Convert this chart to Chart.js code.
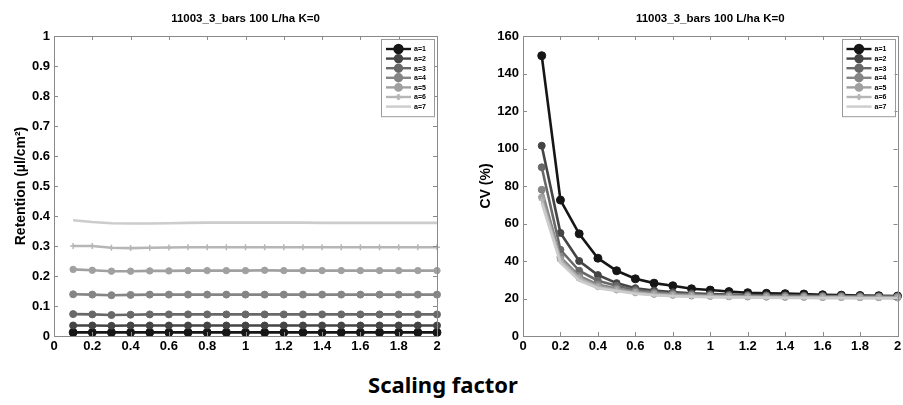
<!DOCTYPE html>
<html>
<head>
<meta charset="utf-8">
<script src="https://cdn.jsdelivr.net/npm/chart.js@4.4.1/dist/chart.umd.min.js"></script>
<style>
  html, body { margin: 0; padding: 0; background: #fff; }
  body { width: 903px; height: 405px; position: relative; overflow: hidden; }
  #left { position: absolute; left: 0; top: 0; }
  #right { position: absolute; left: 450px; top: 0; }
  #xlabel {
    position: absolute; left: 0; width: 886px; top: 369px; text-align: center;
    font: bold 22px "Noto Sans", "Open Sans", sans-serif; color: #000;
  }
</style>
</head>
<body>
<canvas id="left" width="450" height="360"></canvas>
<canvas id="right" width="453" height="360"></canvas>
<div id="xlabel">Scaling factor</div>
<script>
// Scaling factor values shared by both panels
const scaling = [0.1, 0.2, 0.3, 0.4, 0.5, 0.6, 0.7, 0.8, 0.9, 1.0,
                 1.1, 1.2, 1.3, 1.4, 1.5, 1.6, 1.7, 1.8, 1.9, 2.0];

const seriesNames = ['a=1', 'a=2', 'a=3', 'a=4', 'a=5', 'a=6', 'a=7'];
const seriesColors = ['#161616', '#444444', '#686868', '#858585', '#a0a0a0', '#b6b6b6', '#cccccc'];
const markerStyles = ['circle', 'circle', 'circle', 'circle', 'circle', 'cross', 'circle'];
const markerRadii = [4.0, 3.5, 3.5, 3.5, 3.2, 3.0, 0];

const panelTitle = '11003_3_bars 100 L/ha K=0';

// Retention (µl/cm²)
const retA1 = [0.012, 0.012, 0.012, 0.012, 0.012, 0.012, 0.012, 0.012, 0.012, 0.012, 0.012, 0.012, 0.012, 0.012, 0.012, 0.012, 0.012, 0.012, 0.012, 0.012];
const retA2 = [0.035, 0.035, 0.034, 0.035, 0.035, 0.035, 0.035, 0.035, 0.035, 0.035, 0.035, 0.035, 0.035, 0.035, 0.035, 0.035, 0.035, 0.035, 0.035, 0.035];
const retA3 = [0.073, 0.072, 0.070, 0.071, 0.072, 0.072, 0.072, 0.072, 0.072, 0.072, 0.072, 0.072, 0.072, 0.072, 0.072, 0.072, 0.072, 0.072, 0.072, 0.072];
const retA4 = [0.139, 0.138, 0.136, 0.137, 0.138, 0.138, 0.138, 0.138, 0.138, 0.138, 0.138, 0.138, 0.138, 0.138, 0.138, 0.138, 0.138, 0.138, 0.138, 0.138];
const retA5 = [0.222, 0.219, 0.216, 0.216, 0.217, 0.217, 0.218, 0.218, 0.218, 0.218, 0.219, 0.218, 0.218, 0.218, 0.218, 0.218, 0.218, 0.218, 0.218, 0.218];
const retA6 = [0.300, 0.300, 0.294, 0.293, 0.294, 0.295, 0.296, 0.296, 0.296, 0.296, 0.296, 0.296, 0.296, 0.296, 0.296, 0.296, 0.296, 0.296, 0.296, 0.296];
const retA7 = [0.386, 0.380, 0.376, 0.375, 0.375, 0.376, 0.377, 0.378, 0.378, 0.378, 0.378, 0.378, 0.378, 0.377, 0.377, 0.377, 0.377, 0.377, 0.377, 0.377];

// CV (%)
const cvA1 = [149.5, 72.5, 54.5, 41.5, 34.8, 30.5, 28.2, 26.8, 25.2, 24.5, 23.7, 23.1, 22.8, 22.6, 22.4, 22.0, 21.8, 21.6, 21.5, 21.3];
const cvA2 = [101.5, 55.0, 40.0, 32.5, 28.2, 25.5, 24.3, 23.4, 22.8, 22.4, 22.1, 21.9, 21.8, 21.7, 21.6, 21.5, 21.4, 21.3, 21.2, 21.1];
const cvA3 = [90.0, 46.0, 34.8, 29.5, 26.8, 24.5, 23.4, 22.7, 22.2, 21.9, 21.7, 21.6, 21.5, 21.4, 21.3, 21.2, 21.2, 21.1, 21.0, 21.0];
const cvA4 = [78.0, 42.0, 32.0, 27.5, 25.3, 23.7, 22.8, 22.2, 21.8, 21.5, 21.3, 21.2, 21.1, 21.0, 21.0, 20.9, 20.9, 20.8, 20.8, 20.7];
const cvA5 = [74.0, 41.0, 31.0, 26.5, 24.7, 23.2, 22.3, 21.8, 21.4, 21.2, 21.0, 20.9, 20.8, 20.7, 20.7, 20.6, 20.6, 20.5, 20.5, 20.4];
const cvA6 = [72.5, 40.0, 30.5, 26.0, 24.3, 22.8, 22.0, 21.5, 21.2, 21.0, 20.8, 20.7, 20.6, 20.5, 20.5, 20.4, 20.4, 20.3, 20.3, 20.2];
const cvA7 = [71.0, 39.0, 29.5, 25.5, 24.0, 22.5, 21.7, 21.2, 20.9, 20.7, 20.6, 20.5, 20.4, 20.3, 20.3, 20.2, 20.2, 20.1, 20.1, 20.0];

const retentionSeries = [retA1, retA2, retA3, retA4, retA5, retA6, retA7];
const cvSeries = [cvA1, cvA2, cvA3, cvA4, cvA5, cvA6, cvA7];

const xTicks = [0, 0.2, 0.4, 0.6, 0.8, 1, 1.2, 1.4, 1.6, 1.8, 2];
const retTicks = [0, 0.1, 0.2, 0.3, 0.4, 0.5, 0.6, 0.7, 0.8, 0.9, 1];
const cvTicks = [0, 20, 40, 60, 80, 100, 120, 140, 160];

const tickFont = { family: '"Liberation Sans", Arial, sans-serif', size: 13, weight: 'bold' };
const frameColor = '#8a8a8a';

function buildDatasets(seriesList) {
  return seriesList.map((vals, i) => ({
    label: seriesNames[i],
    data: vals.map((v, k) => ({ x: scaling[k], y: v })),
    borderColor: seriesColors[i],
    backgroundColor: seriesColors[i],
    borderWidth: 2.6,
    pointStyle: markerStyles[i],
    pointRadius: markerRadii[i],
    pointBorderWidth: markerStyles[i] === 'cross' ? 1.5 : 1,
    pointBorderColor: seriesColors[i],
    pointBackgroundColor: seriesColors[i],
    tension: 0,
    clip: false,
    order: seriesList.length - i
  }));
}

function fmt(v) { return String(Number(v.toFixed(2))); }

// Box, inward tick marks, panel title and in-plot legend
const framePlugin = {
  id: 'frame',
  afterDatasetsDraw(chart) {
    const { ctx, chartArea: a, scales } = chart;
    const o = chart.options.plugins.frame;
    ctx.save();
    ctx.strokeStyle = frameColor;
    ctx.lineWidth = 1;
    ctx.strokeRect(Math.round(a.left) + 0.5, Math.round(a.top) + 0.5,
                   Math.round(a.right - a.left), Math.round(a.bottom - a.top));
    const tl = 4;
    ctx.beginPath();
    o.xTicks.forEach(t => {
      const px = Math.round(scales.x.getPixelForValue(t)) + 0.5;
      ctx.moveTo(px, a.bottom); ctx.lineTo(px, a.bottom - tl);
      ctx.moveTo(px, a.top); ctx.lineTo(px, a.top + tl);
    });
    o.yTicks.forEach(t => {
      const py = Math.round(scales.y.getPixelForValue(t)) + 0.5;
      ctx.moveTo(a.left, py); ctx.lineTo(a.left + tl, py);
      ctx.moveTo(a.right, py); ctx.lineTo(a.right - tl, py);
    });
    ctx.stroke();

    // title
    ctx.fillStyle = '#000';
    ctx.font = 'bold 11.5px "Liberation Sans", Arial, sans-serif';
    ctx.textAlign = 'center';
    ctx.textBaseline = 'middle';
    ctx.fillText(o.title, (a.left + a.right) / 2, 19);

    // legend
    const lw = 53, rowH = 9.6;
    const n = chart.data.datasets.length;
    const lh = n * rowH + 10;
    const lx = a.right - lw - 3, ly = a.top + 3;
    ctx.fillStyle = '#fff';
    ctx.fillRect(lx, ly, lw, lh);
    ctx.strokeStyle = '#9a9a9a';
    ctx.strokeRect(Math.round(lx) + 0.5, Math.round(ly) + 0.5, lw, lh);
    ctx.font = 'bold 7px "Liberation Sans", Arial, sans-serif';
    ctx.textAlign = 'left';
    chart.data.datasets.forEach((ds, i) => {
      const yy = ly + 10 + i * rowH;
      ctx.strokeStyle = ds.borderColor;
      ctx.lineWidth = 2.4;
      ctx.beginPath();
      ctx.moveTo(lx + 5, yy); ctx.lineTo(lx + 30, yy);
      ctx.stroke();
      if (ds.pointRadius > 0) {
        Chart.helpers.drawPoint(ctx, {
          pointStyle: ds.pointStyle, radius: ds.pointRadius,
          borderWidth: ds.pointBorderWidth, rotation: 0
        }, lx + 17.5, yy);
        ctx.fillStyle = ds.borderColor;
        if (ds.pointStyle === 'circle') {
          ctx.beginPath(); ctx.arc(lx + 17.5, yy, ds.pointRadius, 0, Math.PI * 2); ctx.fill();
        }
      }
      ctx.fillStyle = '#000';
      ctx.fillText(ds.label, lx + 33, yy + 0.5);
    });
    ctx.restore();
  }
};

function makeChart(id, seriesList, yMax, yStep, yTickList, yTitle, pad, yWidth) {
  return new Chart(document.getElementById(id), {
    type: 'line',
    data: { datasets: buildDatasets(seriesList) },
    options: {
      responsive: false,
      animation: false,
      events: [],
      layout: { padding: pad },
      plugins: {
        legend: { display: false },
        tooltip: { enabled: false },
        frame: { xTicks: xTicks, yTicks: yTickList, title: panelTitle }
      },
      scales: {
        x: {
          type: 'linear', min: 0, max: 2,
          grid: { display: false, drawTicks: false },
          border: { display: false },
          ticks: { stepSize: 0.2, color: '#000', font: tickFont, padding: 3,
                   maxRotation: 0, autoSkip: false, callback: v => fmt(v) },
          afterFit(s) { s.height = 24; s.paddingLeft = 0; s.paddingRight = 0; }
        },
        y: {
          type: 'linear', min: 0, max: yMax,
          grid: { display: false, drawTicks: false },
          border: { display: false },
          ticks: { stepSize: yStep, color: '#000', font: tickFont, padding: 4,
                   callback: v => fmt(v) },
          title: { display: true, text: yTitle, color: '#000', padding: 0,
                   font: { family: '"Liberation Sans", Arial, sans-serif', size: 14, weight: 'bold' } },
          afterFit(s) { s.width = yWidth; s.paddingTop = 0; s.paddingBottom = 0; }
        }
      }
    },
    plugins: [framePlugin]
  });
}

makeChart('left', retentionSeries, 1, 0.1, retTicks, 'Retention (µl/cm²)',
          { left: 13, top: 36, right: 13, bottom: 0 }, 41);
makeChart('right', cvSeries, 160, 20, cvTicks, 'CV (%)',
          { left: 28, top: 36, right: 2.5, bottom: 0 }, 45);
</script>
</body>
</html>
